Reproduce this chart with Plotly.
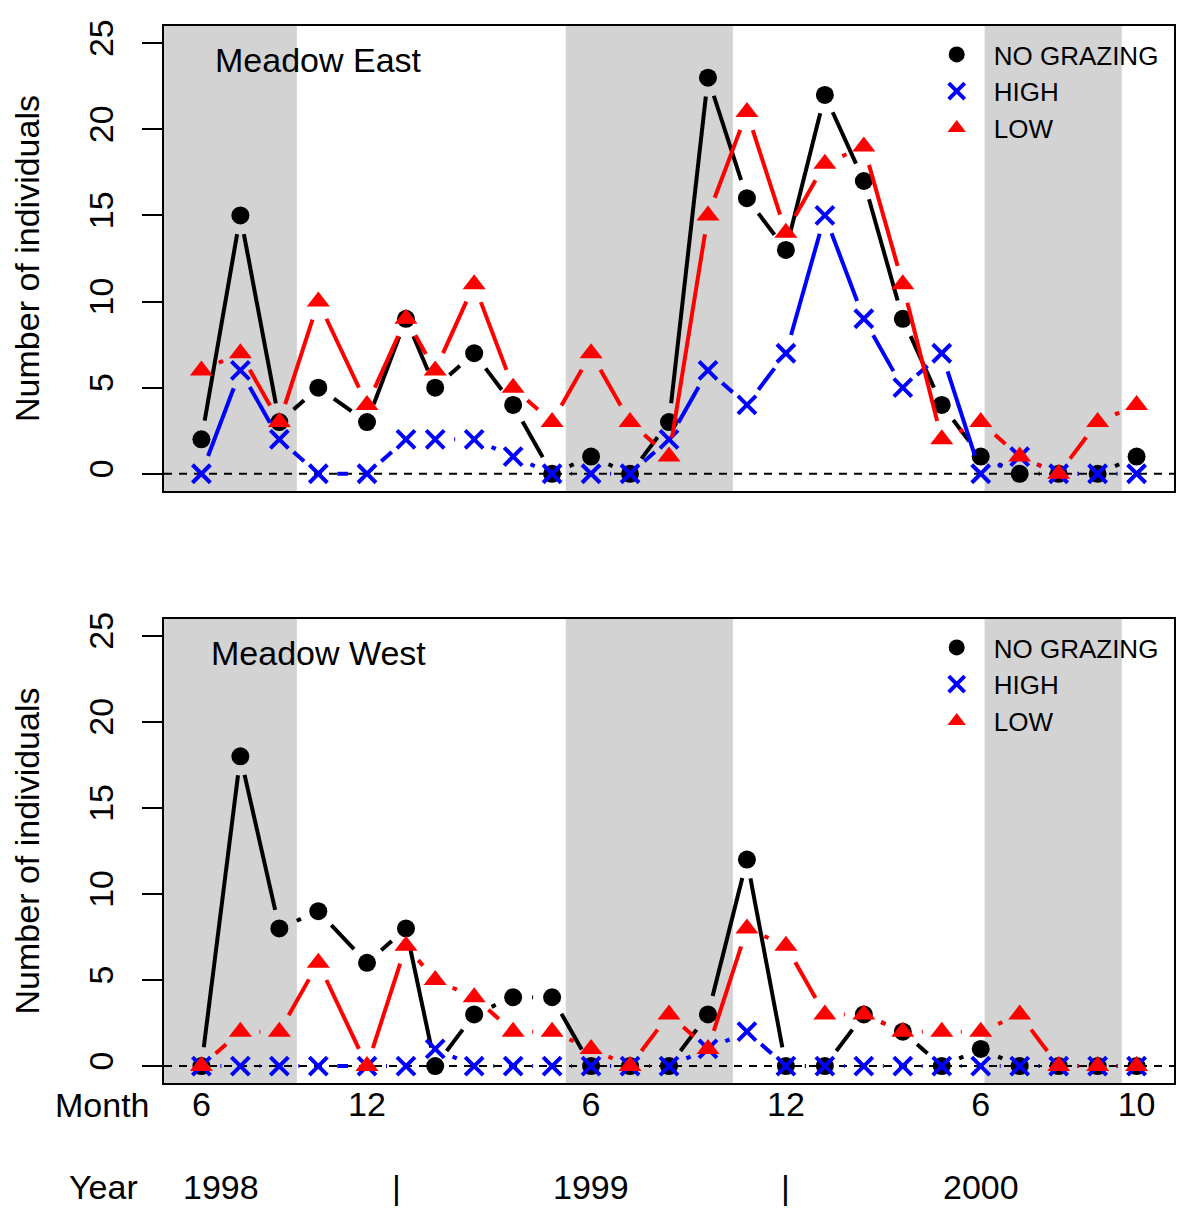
import math
import plotly.graph_objects as go

# ---------------- data ----------------
sample_pos = [0, 1, 2, 3, 4.25, 5.25, 6, 7, 8, 9, 10, 11, 12, 13, 14, 15, 16, 17, 18, 19, 20, 21, 22, 23, 24]

month_tick_pos = [0, 4.25, 10, 15, 20, 24]
month_tick_text = ["6", "12", "6", "12", "6", "10"]

year_labels = ["1998", "1999", "2000"]
year_label_pos = [0.5, 10, 20]
year_sep_pos = [5, 15]

shade_start = [-2.0, 9.35, 20.1]
shade_end = [2.45, 13.64, 23.62]

east_none = [2, 15, 3, 5, 3, 9, 5, 7, 4, 0, 1, 0, 3, 23, 16, 13, 22, 17, 9, 4, 1, 0, 0, 0, 1]
east_high = [0, 6, 2, 0, 0, 2, 2, 2, 1, 0, 0, 0, 2, 6, 4, 7, 15, 9, 5, 7, 0, 1, 0, 0, 0]
east_low = [6, 7, 3, 10, 4, 9, 6, 11, 5, 3, 7, 3, 1, 15, 21, 14, 18, 19, 11, 2, 3, 1, 0, 3, 4]

west_none = [0, 18, 8, 9, 6, 8, 0, 3, 4, 4, 0, 0, 0, 3, 12, 0, 0, 3, 2, 0, 1, 0, 0, 0, 0]
west_high = [0, 0, 0, 0, 0, 0, 1, 0, 0, 0, 0, 0, 0, 1, 2, 0, 0, 0, 0, 0, 0, 0, 0, 0, 0]
west_low = [0, 2, 2, 6, 0, 7, 5, 4, 2, 2, 1, 0, 3, 1, 8, 7, 3, 3, 2, 2, 2, 3, 0, 0, 0]

series_names = ["NO GRAZING", "HIGH", "LOW"]
series_colors = ["black", "#0000FF", "#FF0000"]
series_symbols = ["circle", "x-thin", "triangle-up"]
series_sizes = [18, 18, 20]

panel_titles = ["Meadow East", "Meadow West"]

# ---------------- layout geometry ----------------
OFF = 8                      # default page body margin
W, H = 1200 - OFF, 1225 - OFF


def fx(page_x):
    return page_x - OFF


def fy(page_y):
    return page_y - OFF


BOX_L, BOX_R = 164.3, 1174.3
ML = fx(BOX_L)
MR = W - fx(BOX_R)
plot_w = BOX_R - BOX_L
x_span = sample_pos[-1] - sample_pos[0]
x_range = [sample_pos[0] - 0.04 * x_span, sample_pos[-1] + 0.04 * x_span]
y_range = [-1, 26]
top_dom = [1 - fy(491) / H, 1 - fy(26) / H]
bot_dom = [1 - fy(1083.3) / H, 1 - fy(618.7) / H]
plot_h = (top_dom[1] - top_dom[0]) * H


def paper_x(page_x):
    return (fx(page_x) - ML) / plot_w


def paper_y(page_y):
    return 1 - fy(page_y) / H


sx = plot_w / (x_range[1] - x_range[0])
sy = plot_h / (y_range[1] - y_range[0])
GAP = 19  # px gap around symbols (R type = "b")


def gapped(xs, ys):
    ox, oy = [], []
    for i in range(len(xs) - 1):
        x0, y0, x1, y1 = xs[i], ys[i], xs[i + 1], ys[i + 1]
        L = math.hypot((x1 - x0) * sx, (y1 - y0) * sy)
        if L <= 2 * GAP:
            continue
        f = GAP / L
        ox += [x0 + (x1 - x0) * f, x1 - (x1 - x0) * f, None]
        oy += [y0 + (y1 - y0) * f, y1 - (y1 - y0) * f, None]
    return ox, oy


FONT = "Liberation Sans, Arial, Helvetica, sans-serif"
FS = 34
fig = go.Figure()

panels = [
    ("x", "y", "legend", [east_none, east_high, east_low]),
    ("x2", "y2", "legend2", [west_none, west_high, west_low]),
]

for xa, ya, lg, data in panels:
    for k, vals in enumerate(data):
        lx, ly = gapped(sample_pos, vals)
        fig.add_trace(go.Scatter(
            x=lx, y=ly, mode="lines", xaxis=xa, yaxis=ya,
            line=dict(color=series_colors[k], width=4),
            showlegend=False, hoverinfo="skip"))
        mk = dict(symbol=series_symbols[k], size=series_sizes[k], color=series_colors[k])
        if series_symbols[k] == "x-thin":
            mk["line"] = dict(color=series_colors[k], width=4)
        else:
            mk["line"] = dict(width=0)
        fig.add_trace(go.Scatter(
            x=sample_pos, y=vals, mode="markers", xaxis=xa, yaxis=ya,
            marker=mk, name=series_names[k], legend=lg, showlegend=True))

shapes = []
for xr, yr in [("x", "y"), ("x2", "y2")]:
    for s0, s1 in zip(shade_start, shade_end):
        shapes.append(dict(type="rect", xref=xr, yref=yr, x0=s0, x1=s1,
                           y0=y_range[0], y1=y_range[1], fillcolor="#D3D3D3",
                           line=dict(width=0), layer="below"))
    shapes.append(dict(type="line", xref=xr, yref=yr, x0=x_range[0], x1=x_range[1],
                       y0=0, y1=0, line=dict(color="black", width=2, dash="8px,7px"),
                       layer="below"))

annotations = []
for (xr, yr), t in zip([("x", "y"), ("x2", "y2")], panel_titles):
    annotations.append(dict(x=3, y=24, xref=xr, yref=yr, text=t, showarrow=False,
                            font=dict(family=FONT, size=FS, color="black"),
                            xanchor="center", yanchor="middle"))

row_month_y = paper_y(1105)
row_year_y = paper_y(1187)
annotations.append(dict(x=paper_x(152), y=row_month_y, xref="paper", yref="paper",
                        text="Month", showarrow=False, xanchor="right", yanchor="middle",
                        font=dict(family=FONT, size=FS, color="black")))
annotations.append(dict(x=paper_x(140), y=row_year_y, xref="paper", yref="paper",
                        text="Year", showarrow=False, xanchor="right", yanchor="middle",
                        font=dict(family=FONT, size=FS, color="black")))
for lab, p in zip(year_labels, year_label_pos):
    annotations.append(dict(x=p, y=row_year_y, xref="x2", yref="paper", text=lab,
                            showarrow=False, xanchor="center", yanchor="middle",
                            font=dict(family=FONT, size=FS, color="black")))
for p in year_sep_pos:
    annotations.append(dict(x=p, y=row_year_y, xref="x2", yref="paper", text="|",
                            showarrow=False, xanchor="center", yanchor="middle",
                            font=dict(family=FONT, size=FS, color="black")))

yax = dict(range=y_range, tickvals=[0, 5, 10, 15, 20, 25], tickangle=-90,
           ticks="outside", ticklen=20, tickwidth=2, tickcolor="black",
           ticklabelstandoff=15,
           showline=True, linecolor="black", linewidth=2, mirror=True,
           showgrid=False, zeroline=False,
           tickfont=dict(family=FONT, size=FS, color="black"),
           title=dict(text="Number of individuals", font=dict(family=FONT, size=FS, color="black"),
                      standoff=36))
xax = dict(range=x_range, showline=True, linecolor="black", linewidth=2, mirror=True,
           showgrid=False, zeroline=False, ticks="")

legend_common = dict(font=dict(family=FONT, size=26, color="black"),
                     bgcolor="rgba(0,0,0,0)", borderwidth=0, xanchor="left",
                     yanchor="top", tracegroupgap=0, itemsizing="trace", itemwidth=64)

fig.update_layout(
    width=W, height=H, margin=dict(l=ML, r=MR, t=0, b=0, autoexpand=False),
    paper_bgcolor="white", plot_bgcolor="white",
    xaxis=dict(xax, domain=[0, 1], anchor="y", showticklabels=False),
    yaxis=dict(yax, domain=top_dom, anchor="x"),
    xaxis2=dict(xax, domain=[0, 1], anchor="y2", tickvals=month_tick_pos,
                ticktext=month_tick_text, showticklabels=True, ticklabelstandoff=-10,
                tickfont=dict(family=FONT, size=FS, color="black")),
    yaxis2=dict(yax, domain=bot_dom, anchor="x2"),
    legend=dict(legend_common, x=paper_x(920), y=paper_y(31)),
    legend2=dict(legend_common, x=paper_x(920), y=paper_y(624)),
    shapes=shapes, annotations=annotations, showlegend=True,
)

fig.write_html("out.html")
